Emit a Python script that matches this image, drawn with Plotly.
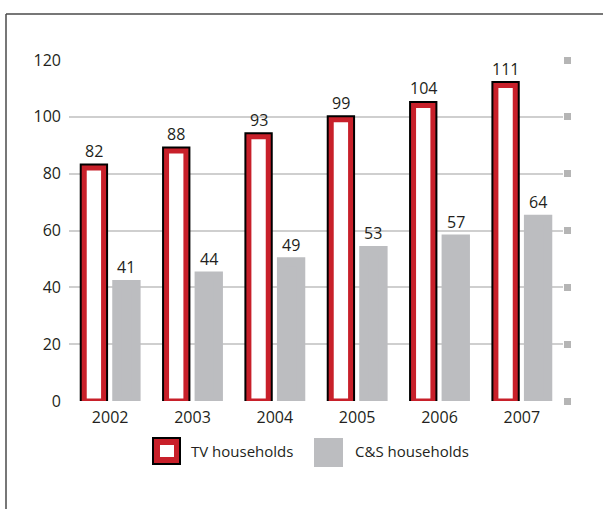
import plotly.graph_objects as go

# ---- data ----
years = ["2002", "2003", "2004", "2005", "2006", "2007"]
tv_households = [82, 88, 93, 99, 104, 111]
cs_households = [41, 44, 49, 53, 57, 64]
y_ticks = [0, 20, 40, 60, 80, 100, 120]
legend_labels = ["TV households", "C&S households"]

# ---- styles ----
RED = "#c8202a"
GRAY = "#bcbdc0"
GRID = "#cfcfcf"
SQUARE = "#b5b5b5"
TEXT = "#231f20"
FONT = "Open Sans"

W, H = 603, 509
L, R, T, B = 69, 40, 60, 108
PW, PH = W - L - R, H - T - B


def px(x):
    return (x - L) / PW


def py(y):
    return (H - B - y) / PH


bar_w = 0.235
tv_off = -0.315
cs_off = 0.08

fig = go.Figure()
fig.add_trace(go.Bar(
    x=years, y=tv_households, width=bar_w, offset=tv_off,
    marker=dict(color="black", line=dict(color="black", width=9)),
    cliponaxis=True, showlegend=False, name=legend_labels[0]))
fig.add_trace(go.Bar(
    x=years, y=tv_households, width=bar_w, offset=tv_off,
    marker=dict(color="white", line=dict(color=RED, width=5)),
    cliponaxis=True, showlegend=False, hoverinfo="skip", name=legend_labels[0]))
fig.add_trace(go.Bar(
    x=years, y=cs_households, width=bar_w, offset=cs_off,
    marker=dict(color=GRAY, line=dict(color=GRAY, width=9)),
    cliponaxis=True, showlegend=False, name=legend_labels[1]))
# helper trace so the right-hand tick-square axis is drawn
fig.add_trace(go.Scatter(x=years, y=tv_households, yaxis="y2", mode="none",
                         showlegend=False, hoverinfo="skip"))

# value labels (category index positions on the category axis)
annotations = []
for i, v in enumerate(tv_households):
    annotations.append(dict(x=i + tv_off + bar_w / 2, y=v, xref="x", yref="y", text=str(v),
                            showarrow=False, xanchor="center", yanchor="bottom", yshift=4,
                            font=dict(family=FONT, size=16, color=TEXT)))
for i, v in enumerate(cs_households):
    annotations.append(dict(x=i + cs_off + bar_w / 2, y=v, xref="x", yref="y", text=str(v),
                            showarrow=False, xanchor="center", yanchor="bottom", yshift=4,
                            font=dict(family=FONT, size=16, color=TEXT)))

shapes = [
    # frame
    dict(type="line", xref="paper", yref="paper", x0=px(6), x1=px(6), y0=py(14), y1=py(515),
         line=dict(color="#4a4a4a", width=1.5)),
    dict(type="line", xref="paper", yref="paper", x0=px(6), x1=px(610), y0=py(14), y1=py(14),
         line=dict(color="#4a4a4a", width=1.5)),
    # legend icon TV
    dict(type="rect", xref="paper", yref="paper", x0=px(152), x1=px(181), y0=py(437), y1=py(465),
         fillcolor="black", line=dict(width=0)),
    dict(type="rect", xref="paper", yref="paper", x0=px(154), x1=px(179), y0=py(439), y1=py(463),
         fillcolor=RED, line=dict(width=0)),
    dict(type="rect", xref="paper", yref="paper", x0=px(160), x1=px(174), y0=py(445), y1=py(457),
         fillcolor="white", line=dict(width=0)),
    # legend icon C&S
    dict(type="rect", xref="paper", yref="paper", x0=px(314), x1=px(343), y0=py(438), y1=py(467),
         fillcolor=GRAY, line=dict(width=0)),
]

annotations += [
    dict(text=legend_labels[0], xref="paper", yref="paper", x=px(189), y=py(451),
         xanchor="left", yanchor="middle", showarrow=False,
         font=dict(family=FONT, size=15, color=TEXT)),
    dict(text=legend_labels[1], xref="paper", yref="paper", x=px(353), y=py(451),
         xanchor="left", yanchor="middle", showarrow=False,
         font=dict(family=FONT, size=15, color=TEXT)),
]

fig.update_layout(
    width=W, height=H,
    margin=dict(l=L, r=R, t=T, b=B, pad=0),
    paper_bgcolor="white", plot_bgcolor="white",
    barmode="overlay",
    showlegend=False,
    font=dict(family=FONT, size=16, color=TEXT),
    xaxis=dict(type="category", range=[-0.5, len(years) - 0.5], showgrid=False,
               zeroline=False, showline=False, ticks="", ticklabelstandoff=5,
               tickfont=dict(family=FONT, size=16, color=TEXT)),
    yaxis=dict(range=[0, 120], tickvals=y_ticks, showgrid=True, gridcolor=GRID, gridwidth=2,
               zeroline=False, showline=False, ticks="", ticklabelstandoff=7,
               tickfont=dict(family=FONT, size=16, color=TEXT)),
    yaxis2=dict(range=[0, 120], overlaying="y", side="right", tickvals=y_ticks,
                ticks="outside", ticklen=7, tickwidth=7, tickcolor=SQUARE,
                showticklabels=False, showgrid=False, zeroline=False, showline=False),
    shapes=shapes,
    annotations=annotations,
)

fig.write_html("out.html", config={"displayModeBar": False},
               post_script="document.body.style.margin='0';document.body.style.overflow='hidden';")
